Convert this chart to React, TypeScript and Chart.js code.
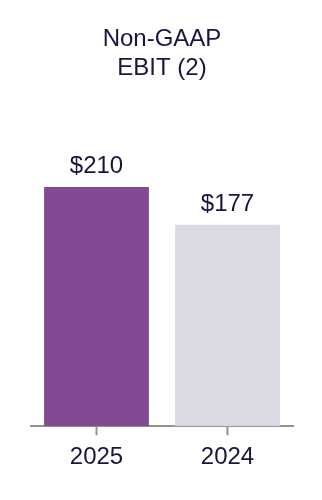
import React, { useEffect, useRef } from "react";
import { Chart, registerables } from "chart.js";

Chart.register(...registerables);

const categories: string[] = ["2025", "2024"];
const values: number[] = [210, 177];
const valueLabels: string[] = ["$210", "$177"];
const barColors: string[] = ["#834A93", "#D9DAE2"];
const titleLines: string[] = ["Non-GAAP", "EBIT (2)"];

const TEXT = "#16163F";
const FONT = "Arial, 'Liberation Sans', sans-serif";

const labelPlugin = {
  id: "valueLabels",
  afterDatasetsDraw(chart: any) {
    const ctx = chart.ctx;
    const meta = chart.getDatasetMeta(0);
    ctx.save();
    ctx.fillStyle = TEXT;
    ctx.font = `24px ${FONT}`;
    ctx.textAlign = "center";
    ctx.textBaseline = "alphabetic";
    meta.data.forEach((bar: any, i: number) => {
      ctx.fillText(valueLabels[i], bar.x, bar.y - 14);
    });
    ctx.restore();
  },
};

export default function App() {
  const ref = useRef<HTMLCanvasElement | null>(null);
  useEffect(() => {
    document.body.style.margin = "0";
    const chart = new Chart(ref.current as HTMLCanvasElement, {
      type: "bar",
      data: {
        labels: categories,
        datasets: [
          {
            data: values,
            backgroundColor: barColors,
            borderWidth: 0,
            barPercentage: 0.8,
            categoryPercentage: 1,
          },
        ],
      },
      options: {
        animation: false,
        responsive: false,
        maintainAspectRatio: false,
        layout: { padding: { left: 31, right: 29, top: 0, bottom: 20 } },
        plugins: {
          legend: { display: false },
          tooltip: { enabled: false },
          title: {
            display: true,
            text: titleLines,
            color: TEXT,
            font: { family: FONT, size: 24, weight: "normal", lineHeight: 1.2 },
            padding: { top: 25, bottom: 18 },
          },
        },
        scales: {
          x: {
            offset: true,
            grid: {
              display: true,
              offset: false,
              drawOnChartArea: false,
              drawTicks: true,
              tickLength: 9,
              tickWidth: 2,
              tickColor: "#929292",
            },
            border: { display: true, color: "#929292", width: 2 },
            ticks: {
              color: TEXT,
              font: { family: FONT, size: 24 },
              padding: 8,
            },
          },
          y: {
            display: false,
            min: 0,
            max: 286,
          },
        },
      },
      plugins: [labelPlugin],
    });
    return () => chart.destroy();
  }, []);
  return (
    <div style={{ width: 322, height: 500, background: "#fff" }}>
      <canvas ref={ref} width={322} height={500} style={{ display: "block" }} />
    </div>
  );
}
